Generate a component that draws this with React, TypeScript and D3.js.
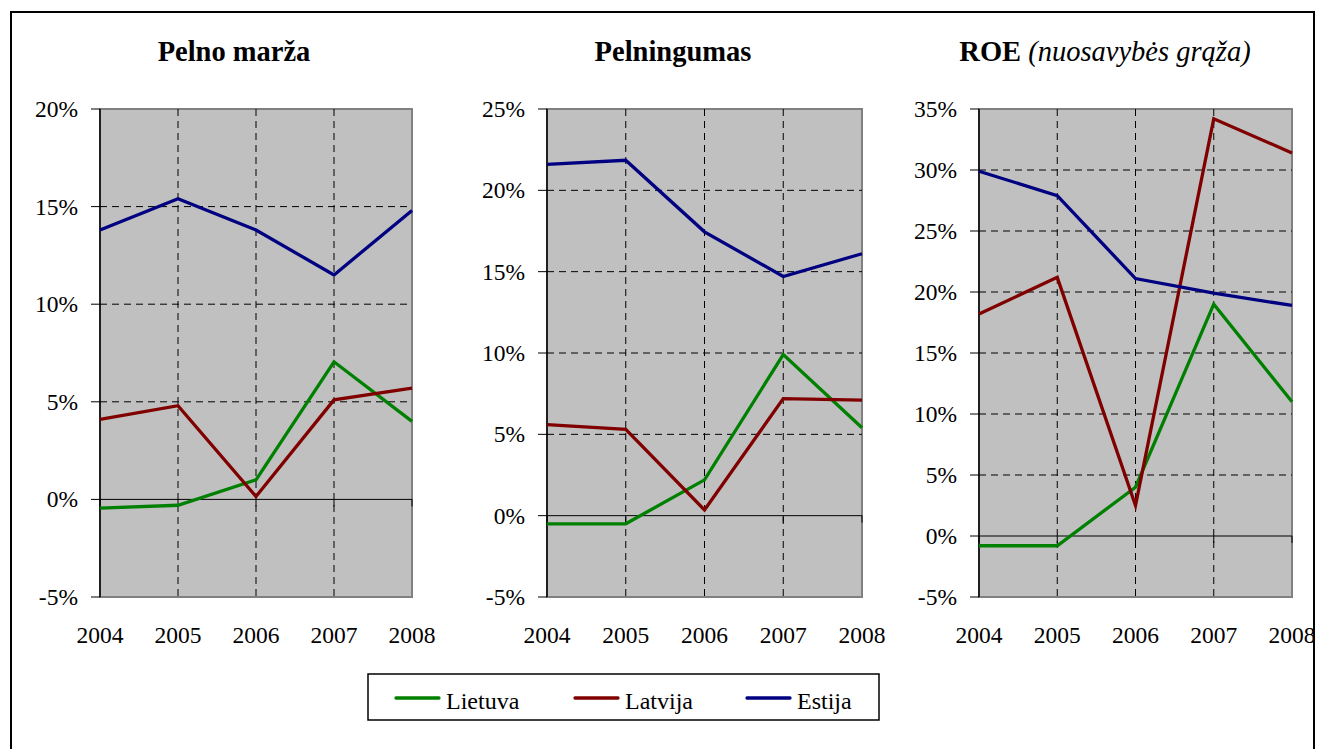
import React from "react";
import * as d3 from "d3";

const years = ["2004", "2005", "2006", "2007", "2008"];
const countries = ["Lietuva", "Latvija", "Estija"];
const countryColors = ["#008000", "#800000", "#000080"];

// Pelno marža (%)
const marzaLietuva = [-0.45, -0.3, 1.0, 7.05, 4.0];
const marzaLatvija = [4.1, 4.8, 0.15, 5.1, 5.7];
const marzaEstija = [13.8, 15.4, 13.8, 11.5, 14.8];

// Pelningumas (%)
const pelnLietuva = [-0.5, -0.5, 2.2, 9.9, 5.4];
const pelnLatvija = [5.6, 5.3, 0.35, 7.2, 7.1];
const pelnEstija = [21.6, 21.85, 17.45, 14.7, 16.1];

// ROE (%)
const roeLietuva = [-0.8, -0.8, 4.0, 19.0, 11.0];
const roeLatvija = [18.2, 21.2, 2.5, 34.2, 31.4];
const roeEstija = [29.9, 27.9, 21.1, 19.9, 18.9];

const marzaTicks = [-5, 0, 5, 10, 15, 20];
const pelnTicks = [-5, 0, 5, 10, 15, 20, 25];
const roeTicks = [-5, 0, 5, 10, 15, 20, 25, 30, 35];

const FONT = "Liberation Serif, Tinos, Times New Roman, DejaVu Serif, serif";
const txt = { fontFamily: FONT };

const panels = [
  { key: "marza", title: "Pelno marža", series: [marzaLietuva, marzaLatvija, marzaEstija], ticks: marzaTicks, x0: 100, x1: 412, titleX: 234 },
  { key: "peln", title: "Pelningumas", series: [pelnLietuva, pelnLatvija, pelnEstija], ticks: pelnTicks, x0: 547, x1: 862, titleX: 673 },
  { key: "roe", title: "ROE", sub: " (nuosavybės grąža)", series: [roeLietuva, roeLatvija, roeEstija], ticks: roeTicks, x0: 979, x1: 1292, titleX: 1105 },
];

const top = 109;
const bottom = 597;

function Panel({ p }) {
  const x = d3.scalePoint().domain(years).range([p.x0, p.x1]);
  const y = d3
    .scaleLinear()
    .domain([p.ticks[0], p.ticks[p.ticks.length - 1]])
    .range([bottom, top]);
  const line = d3
    .line<number>()
    .x((d, i) => x(years[i]) as number)
    .y((d) => y(d));

  return (
    <g>
      <text x={p.titleX} y={61} textAnchor="middle" style={txt} fontSize={28.5}>
        <tspan fontWeight="bold">{p.title}</tspan>
        {p.sub ? <tspan fontStyle="italic">{p.sub}</tspan> : null}
      </text>
      <rect x={p.x0} y={top} width={p.x1 - p.x0} height={bottom - top} fill="#c0c0c0" stroke="#808080" strokeWidth={2} />
      {/* horizontal grid */}
      {p.ticks.slice(1, -1).filter((t) => t !== 0).map((t) => (
        <line key={t} x1={p.x0} x2={p.x1} y1={y(t)} y2={y(t)} stroke="#000" strokeWidth={1} strokeDasharray="7,5" />
      ))}
      {/* vertical grid */}
      {years.slice(1, -1).map((yr) => (
        <line key={yr} x1={x(yr)} x2={x(yr)} y1={top} y2={bottom} stroke="#000" strokeWidth={1} strokeDasharray="7,5" />
      ))}
      {/* zero axis */}
      <line x1={p.x0} x2={p.x1} y1={y(0)} y2={y(0)} stroke="#000" strokeWidth={1} />
      {years.map((yr) => (
        <line key={yr} x1={x(yr)} x2={x(yr)} y1={y(0)} y2={y(0) + 7} stroke="#000" strokeWidth={1} />
      ))}
      {/* y axis */}
      <line x1={p.x0} x2={p.x0} y1={top} y2={bottom} stroke="#000" strokeWidth={1.5} />
      {p.ticks.map((t) => (
        <g key={t}>
          <line x1={p.x0 - 9} x2={p.x0} y1={y(t)} y2={y(t)} stroke="#000" strokeWidth={1} />
          <text x={p.x0 - 22} y={y(t) + 8} textAnchor="end" style={txt} fontSize={23.5}>
            {t}%
          </text>
        </g>
      ))}
      {years.map((yr) => (
        <text key={yr} x={x(yr)} y={643} textAnchor="middle" style={txt} fontSize={23.5}>
          {yr}
        </text>
      ))}
      {p.series.map((s, i) => (
        <path key={i} d={line(s) || ""} fill="none" stroke={countryColors[i]} strokeWidth={3.3} strokeLinejoin="miter" />
      ))}
    </g>
  );
}

const legendItems = [
  { lx: 396, tx: 446 },
  { lx: 575, tx: 625 },
  { lx: 747, tx: 797 },
];

export default function App() {
  return (
    <svg width={1317} height={749} style={{ position: "absolute", left: 0, top: 0, background: "#fff" }}>
      <rect x={11} y={12} width={1303} height={760} fill="#fff" stroke="#000" strokeWidth={2} />
      {panels.map((p) => (
        <Panel key={p.key} p={p} />
      ))}
      <rect x={368} y={674} width={511} height={46} fill="#fff" stroke="#000" strokeWidth={1.5} />
      {countries.map((c, i) => (
        <g key={c}>
          <line x1={legendItems[i].lx} x2={legendItems[i].lx + 43} y1={698} y2={698} stroke={countryColors[i]} strokeWidth={3.3} strokeLinecap="round" />
          <text x={legendItems[i].tx} y={709} style={txt} fontSize={24}>
            {c}
          </text>
        </g>
      ))}
    </svg>
  );
}
